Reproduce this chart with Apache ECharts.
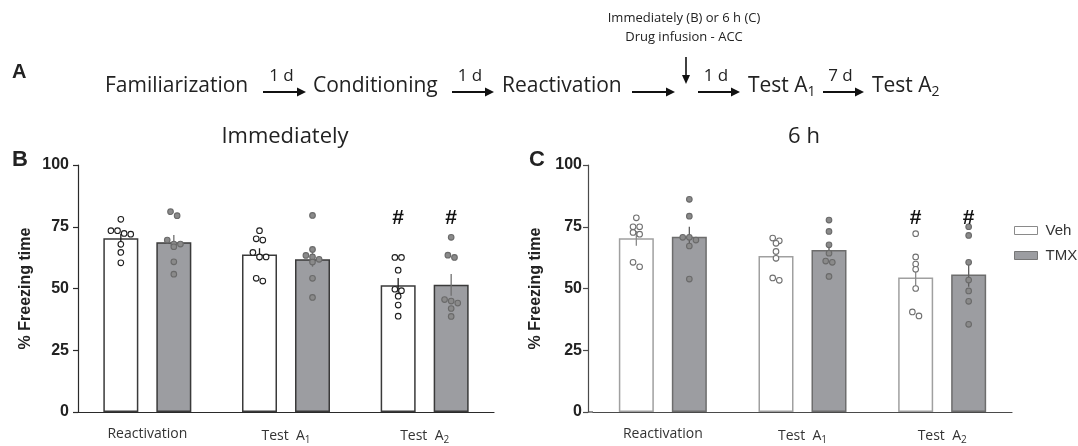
<!DOCTYPE html>
<html>
<head>
<meta charset="utf-8">
<script src="https://cdn.jsdelivr.net/npm/echarts@6/dist/echarts.min.js"></script>
<style>
  html, body { margin: 0; padding: 0; background: #fff; }
  #main { width: 1078px; height: 446px; }
</style>
</head>
<body>
<div id="main"></div>
<script>
// categories on both x axes
const categories = ['Reactivation', 'Test A1', 'Test A2'];
const yTicks = [0, 25, 50, 75, 100];

// B - infusion immediately after reactivation
const immVehMean = [70.3, 63.8, 51.3];
const immVehSem = [1.9, 2.5, 3.0];
const immTmxMean = [68.7, 61.8, 51.5];
const immTmxSem = [3.0, 3.0, 4.4];
const immVehPts = [
  [78.0, 73.4, 72.3, 72.0, 73.4, 67.9, 64.6, 60.4],
  [73.4, 69.6, 70.1, 62.8, 62.8, 64.6, 53.0, 54.1],
  [62.6, 62.6, 57.4, 49.7, 49.1, 46.9, 43.3, 38.8]
];
const immTmxPts = [
  [79.5, 81.1, 69.6, 68.0, 68.0, 66.9, 60.8, 55.8],
  [79.6, 65.8, 62.8, 63.4, 61.8, 60.7, 54.1, 46.4],
  [70.7, 63.5, 62.6, 44.9, 44.1, 45.5, 41.9, 38.7]
];
const immSig = [false, false, true];

// C - infusion 6 h after reactivation
const sixVehMean = [70.3, 63.2, 54.5];
const sixVehSem = [3.0, 2.3, 5.0];
const sixTmxMean = [71.0, 65.6, 55.7];
const sixTmxSem = [4.0, 2.2, 5.0];
const sixVehPts = [
  [78.6, 75.0, 75.0, 72.7, 72.0, 58.8, 60.6],
  [69.3, 68.3, 70.4, 65.0, 62.2, 53.3, 54.3],
  [72.2, 62.8, 59.9, 57.8, 50.0, 38.9, 40.5]
];
const sixTmxPts = [
  [86.1, 79.3, 70.7, 69.6, 70.7, 67.2, 53.8],
  [77.7, 73.1, 67.7, 64.3, 61.1, 60.6, 54.9],
  [75.0, 71.5, 60.6, 53.4, 49.0, 44.8, 35.5]
];
const sixSig = [false, false, true];

const BAR_W = 35, BAR_GAP = 18;
const SIDE = (BAR_W + BAR_GAP) / 2;
const DOT_R = 2.8, DOT_STEP = 6.6, DOT_ROW = 5;
const HASH_AT = 78.5;
const TMX_FILL = '#9c9da1';
const SANS = '"Open Sans", sans-serif';
const ARIAL = '"Liberation Sans", Arial, sans-serif';
const GRID_TOP = 165, GRID_H = 247;
const C_LEFT = 593, C_OFFSET = 5;

// spread points that sit on the same height, rows centred like prism does
function swarm(vals, yOf) {
  const order = vals.map((v, i) => i).sort((a, b) => vals[b] - vals[a]);
  const off = vals.map(() => 0);
  let row = [];
  const flush = () => {
    row.forEach((idx, j) => { off[idx] = (j - (row.length - 1) / 2) * DOT_STEP; });
    row = [];
  };
  order.forEach(idx => {
    if (row.length && Math.abs(yOf(vals[idx]) - yOf(vals[row[0]])) > DOT_ROW) flush();
    row.push(idx);
  });
  flush();
  return off;
}

function errRender(side, color) {
  return function (params, api) {
    const c = api.value(0), m = api.value(1), s = api.value(2);
    const top = api.coord([c, m + s]), bot = api.coord([c, m - s]);
    const x = top[0] + side * SIDE;
    return { type: 'line', shape: { x1: x, y1: top[1], x2: x, y2: bot[1] },
      style: { stroke: color, lineWidth: 1.3 } };
  };
}

function dotRender(pts, side, fill, stroke) {
  return function (params, api) {
    const c = api.value(0), i = api.value(2);
    const off = swarm(pts[c], v => api.coord([c, v])[1]);
    const p = api.coord([c, pts[c][i]]);
    return { type: 'circle', shape: { cx: p[0] + side * SIDE + off[i], cy: p[1], r: DOT_R },
      style: { fill: fill, stroke: stroke, lineWidth: 1.1 } };
  };
}

function hashRender(params, api) {
  const p = api.coord([api.value(0), api.value(1)]);
  return { type: 'group', children: [-1, 1].map(side => ({
    type: 'text', x: p[0] + side * SIDE, y: p[1],
    style: { text: '#', font: 'bold 21px ' + ARIAL, fill: '#111', align: 'center', verticalAlign: 'middle' }
  })) };
}

const panels = [
  { vehMean: immVehMean, vehSem: immVehSem, tmxMean: immTmxMean, tmxSem: immTmxSem,
    vehPts: immVehPts, tmxPts: immTmxPts, sig: immSig,
    axis: '#2a2a2a', vehEdge: '#3a3a3a', tmxEdge: '#3a3a3a', vehDot: '#1e1e1e',
    vehErr: '#1e1e1e', tmxErr: '#707070' },
  { vehMean: sixVehMean, vehSem: sixVehSem, tmxMean: sixTmxMean, tmxSem: sixTmxSem,
    vehPts: sixVehPts, tmxPts: sixTmxPts, sig: sixSig,
    axis: '#4a4a4a', vehEdge: '#a0a0a0', tmxEdge: '#6d6d6d', vehDot: '#707070',
    vehErr: '#8a8a8a', tmxErr: '#5e5e5e' }
];

const ptsData = pts => pts.flatMap((arr, c) => arr.map((v, i) => [c, v, i]));

const series = [];
panels.forEach((p, g) => {
  const ax = { xAxisIndex: g, yAxisIndex: g, silent: true };
  series.push(Object.assign({ name: 'Veh', type: 'bar', data: p.vehMean, barWidth: BAR_W, barGap: (BAR_GAP / BAR_W * 100) + '%',
    itemStyle: { color: '#fff', borderColor: p.vehEdge, borderWidth: 1.5 }, z: 2 }, ax));
  series.push(Object.assign({ name: 'TMX', type: 'bar', data: p.tmxMean, barWidth: BAR_W,
    itemStyle: { color: TMX_FILL, borderColor: p.tmxEdge, borderWidth: 1.5 }, z: 2 }, ax));
  series.push(Object.assign({ type: 'custom', renderItem: errRender(-1, p.vehErr), encode: { x: 0, y: 1 },
    data: p.vehMean.map((m, c) => [c, m, p.vehSem[c]]), z: 3 }, ax));
  series.push(Object.assign({ type: 'custom', renderItem: errRender(1, p.tmxErr), encode: { x: 0, y: 1 },
    data: p.tmxMean.map((m, c) => [c, m, p.tmxSem[c]]), z: 3 }, ax));
  series.push(Object.assign({ type: 'custom', renderItem: dotRender(p.vehPts, -1, '#fff', p.vehDot), encode: { x: 0, y: 1 },
    data: ptsData(p.vehPts), z: 4 }, ax));
  series.push(Object.assign({ type: 'custom', renderItem: dotRender(p.tmxPts, 1, '#8a8a8a', '#6a6a6a'), encode: { x: 0, y: 1 },
    data: ptsData(p.tmxPts), z: 4 }, ax));
  series.push(Object.assign({ type: 'custom', renderItem: hashRender, encode: { x: 0, y: 1 },
    data: p.sig.map((f, c) => [c, HASH_AT, f]).filter(d => d[2]), z: 5 }, ax));
});

const subLabel = s => s.replace(/ A(\d)$/, '  A{s|$1}');

function xAxisFor(g, color) {
  return {
    type: 'category', gridIndex: g, data: categories,
    axisLine: { lineStyle: { color: color, width: 1.2 } },
    axisTick: { alignWithLabel: true, length: 5, lineStyle: { color: color, width: 1.2 } },
    axisLabel: { formatter: subLabel, margin: 15, color: '#333', fontFamily: SANS, fontSize: 14,
      rich: { s: { fontSize: 10, fontFamily: SANS, color: '#333', padding: [8, 0, 0, 0] } } }
  };
}

function yAxisFor(g, color, offset, margin) {
  return {
    type: 'value', gridIndex: g, min: yTicks[0], max: yTicks[yTicks.length - 1], interval: 25, offset: offset,
    name: '% Freezing time', nameLocation: 'middle', nameGap: 44,
    nameTextStyle: { fontFamily: ARIAL, fontWeight: 'bold', fontSize: 16, color: '#222' },
    axisLine: { show: true, lineStyle: { color: color, width: 1.2 } },
    axisTick: { show: true, length: 5, lineStyle: { color: color, width: 1.2 } },
    axisLabel: { margin: margin, fontFamily: ARIAL, fontWeight: 'bold', fontSize: 16, color: '#222' },
    splitLine: { show: false }
  };
}

// flow diagram on top (panel A)
function txt(x, y, text, font, align) {
  return { type: 'text', x: x, y: y, silent: true,
    style: { text: text, font: font, fill: '#222', align: align || 'left', verticalAlign: 'middle',
      rich: { s: { font: '14px ' + SANS, fill: '#222', padding: [12, 0, 0, 0] } } } };
}
function arrow(x1, x2, y, label) {
  const items = [
    { type: 'line', silent: true, shape: { x1: x1, y1: y, x2: x2 - 6, y2: y }, style: { stroke: '#111', lineWidth: 2 } },
    { type: 'polygon', silent: true, shape: { points: [[x2 - 9, y - 4.5], [x2, y], [x2 - 9, y + 4.5]] }, style: { fill: '#111' } }
  ];
  if (label) items.push(txt((x1 + x2) / 2 - 3, y - 16, label, '17px ' + SANS, 'center'));
  return items;
}
const STEP_FONT = '21px ' + SANS;
const ROW_Y = 86, ARROW_Y = 92;
const graphic = [
  txt(12, 72, 'A', 'bold 20px ' + ARIAL),
  txt(12, 160, 'B', 'bold 22px ' + ARIAL),
  txt(529, 160, 'C', 'bold 22px ' + ARIAL),
  txt(105, ROW_Y, 'Familiarization', STEP_FONT),
  txt(313, ROW_Y, 'Conditioning', STEP_FONT),
  txt(502, ROW_Y, 'Reactivation', STEP_FONT),
  txt(748, ROW_Y, 'Test A{s|1}', STEP_FONT),
  txt(872, ROW_Y, 'Test A{s|2}', STEP_FONT),
  txt(684, 18, 'Immediately (B) or 6 h (C)', '13px ' + SANS, 'center'),
  txt(684, 37, 'Drug infusion - ACC', '13px ' + SANS, 'center'),
  txt(285, 137, 'Immediately', '22px ' + SANS, 'center'),
  txt(804, 137, '6 h', '22px ' + SANS, 'center'),
  { type: 'line', silent: true, shape: { x1: 686, y1: 57, x2: 686, y2: 78 }, style: { stroke: '#111', lineWidth: 1.6 } },
  { type: 'polygon', silent: true, shape: { points: [[682, 75], [686, 84], [690, 75]] }, style: { fill: '#111' } },
  // x axis of panel C runs on to meet the offset y axis
  { type: 'line', silent: true, shape: { x1: C_LEFT - C_OFFSET, y1: GRID_TOP + GRID_H, x2: C_LEFT, y2: GRID_TOP + GRID_H },
    style: { stroke: panels[1].axis, lineWidth: 1.2 } }
].concat(
  arrow(263, 306, ARROW_Y, '1 d'),
  arrow(452, 494, ARROW_Y, '1 d'),
  arrow(632, 675, ARROW_Y),
  arrow(698, 740, ARROW_Y, '1 d'),
  arrow(823, 864, ARROW_Y, '7 d')
);

const chart = echarts.init(document.getElementById('main'), null, { renderer: 'canvas' });
chart.setOption({
  animation: false,
  backgroundColor: '#fff',
  grid: [
    { left: 78, top: GRID_TOP, width: 416, height: GRID_H },
    { left: C_LEFT, top: GRID_TOP, width: 419, height: GRID_H }
  ],
  xAxis: [xAxisFor(0, panels[0].axis), xAxisFor(1, panels[1].axis)],
  yAxis: [yAxisFor(0, panels[0].axis, 0, 9), yAxisFor(1, panels[1].axis, C_OFFSET, 6)],
  legend: {
    orient: 'vertical', left: 1009, top: 218, itemWidth: 23, itemHeight: 8, itemGap: 10,
    icon: 'rect', selectedMode: false,
    textStyle: { fontFamily: ARIAL, fontSize: 15, color: '#333', padding: [0, 0, 0, 3] },
    data: [
      { name: 'Veh', itemStyle: { color: '#fff', borderColor: '#8a8a8a', borderWidth: 1 } },
      { name: 'TMX', itemStyle: { color: TMX_FILL, borderColor: '#777', borderWidth: 1 } }
    ]
  },
  graphic: graphic,
  series: series
});
</script>
</body>
</html>
